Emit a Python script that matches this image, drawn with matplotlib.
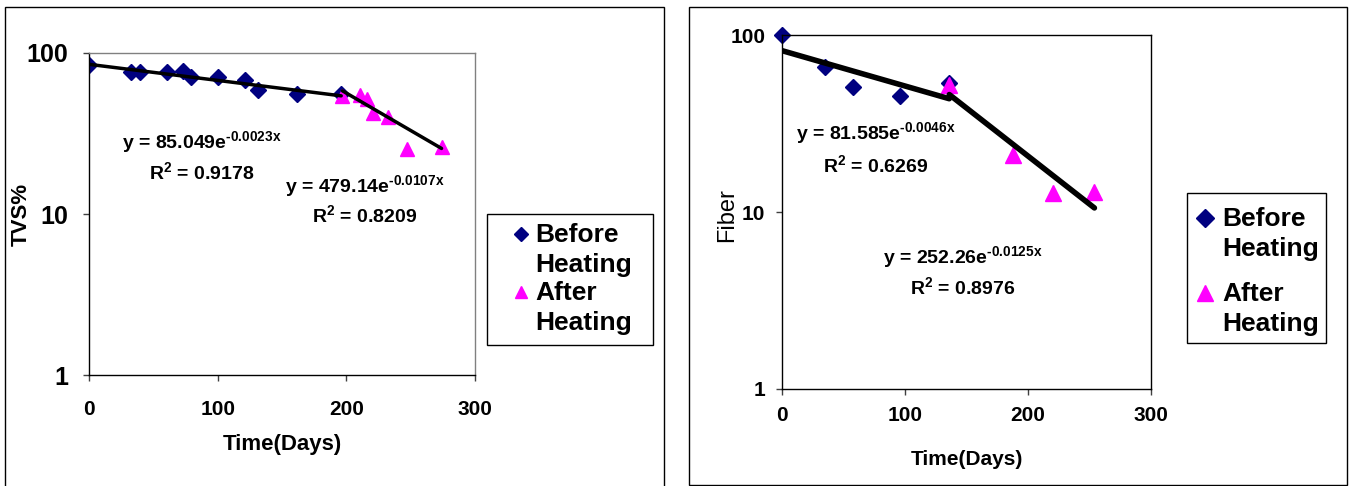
import numpy as np
import matplotlib
matplotlib.use('Agg')
import matplotlib.pyplot as plt
from matplotlib.patches import Rectangle

plt.rcParams['font.family'] = 'Liberation Sans'
plt.rcParams['mathtext.default'] = 'regular'
plt.rcParams['mathtext.fontset'] = 'custom'
plt.rcParams['mathtext.rm'] = 'Liberation Sans:bold'

# left chart: TVS%
tvs_before_x = [0, 33, 40, 61, 73, 79, 100, 121, 131, 162, 196]
tvs_before_y = [84, 76, 76, 76, 77, 71, 71, 68, 59, 55.6, 56]
tvs_after_x = [197, 211, 216, 221, 232, 247, 274]
tvs_after_y = [54, 55, 52, 42.4, 40, 25.3, 26]
tvs_fit_before = (85.049, -0.0023, 0.9178)
tvs_fit_after = (479.14, -0.0107, 0.8209)

# right chart: Fiber
fib_before_x = [0, 35, 58, 96, 136]
fib_before_y = [100, 66, 51, 45.2, 53.5]
fib_after_x = [136, 188, 220, 254]
fib_after_y = [52.2, 21, 12.8, 13]
fib_fit_before = (81.585, -0.0046, 0.6269)
fib_fit_after = (252.26, -0.0125, 0.8976)

labels = ['Before\nHeating', 'After\nHeating']

W, H = 1353, 486
fig = plt.figure(figsize=(W / 100, H / 100), dpi=100)


def fx(px):
    return px / W


def fy(py):
    return 1 - py / H


def box(x0, y0, x1, y1):
    fig.patches.append(Rectangle((fx(x0), fy(y1)), fx(x1) - fx(x0), fy(y0) - fy(y1),
                                 transform=fig.transFigure, fill=False, ec='black', lw=1))


# outer chart frames
box(5, 7, 664, 496)
box(689, 7, 1347, 485)


def fit_line(ax, xs, fit, lw):
    a, b, _ = fit
    xx = np.linspace(min(xs), max(xs), 50)
    ax.plot(xx, a * np.exp(b * xx), color='black', lw=lw, zorder=3, solid_capstyle='round')


def eq_label(ax, fit, xf, yf_eq, yf_r, size):
    a, b, r2 = fit
    coef = ('%.3f' % a) if a < 100 else ('%.2f' % a)
    ax.text(xf, yf_eq, 'y = %se$^{\\text{%.4fx}}$' % (coef, b),
            transform=ax.transAxes, ha='center', va='center', fontsize=size, weight='bold')
    ax.text(xf, yf_r, 'R$^2$ = %.4f' % r2, transform=ax.transAxes,
            ha='center', va='center', fontsize=size, weight='bold')


def setup(ax, frame_col):
    ax.set_yscale('log')
    ax.set_xlim(0, 300)
    ax.set_ylim(1, 100)
    ax.set_xticks([0, 100, 200, 300])
    ax.set_yticks([1, 10, 100])
    ax.set_yticklabels(['1', '10', '100'])
    ax.minorticks_off()
    ax.spines['top'].set_color(frame_col)
    ax.spines['right'].set_color(frame_col)
    for s in ax.spines.values():
        s.set_linewidth(1)
    ax.tick_params(direction='out', length=4, width=1, color='#404040')


def legend(ax, anchor, size, spacing, ms, textpad, ls):
    hs = ax.get_lines()[-2:]
    leg = ax.legend(hs, labels, loc='upper left', bbox_to_anchor=anchor,
                    bbox_transform=fig.transFigure, prop={'size': size, 'weight': 'bold'},
                    frameon=False, handlelength=0.8, handletextpad=textpad,
                    labelspacing=spacing, borderpad=0, borderaxespad=0)
    for t in leg.get_texts():
        t.set_linespacing(ls)
    for h, m in zip(leg.legend_handles, ms):
        h.set_markersize(m)
        h.set_ydata(np.asarray(h.get_ydata()) + 0.62 * size)
    return leg


# ---- left chart
ax1 = fig.add_axes([fx(89), fy(375), fx(475) - fx(89), fy(53) - fy(375)])
setup(ax1, '#808080')
ax1.tick_params(axis='x', labelsize=15, pad=14)
ax1.tick_params(axis='y', labelsize=18, pad=11)
for lab in ax1.get_xticklabels() + ax1.get_yticklabels():
    lab.set_fontweight('bold')
fit_line(ax1, tvs_before_x, tvs_fit_before, 2.5)
fit_line(ax1, tvs_after_x, tvs_fit_after, 2.5)
ax1.plot(tvs_before_x, tvs_before_y, 'D', color='#000080', ms=8, ls='none', zorder=2)
ax1.plot(tvs_after_x, tvs_after_y, '^', color='#ff00ff', ms=10, ls='none', zorder=2)
ax1.set_xlabel('Time(Days)', fontsize=16, weight='bold', labelpad=11)
ax1.set_ylabel('TVS%', fontsize=16, weight='bold')
ax1.yaxis.set_label_coords(-0.148, 0.5)
eq_label(ax1, tvs_fit_before, 0.293, 0.723, 0.630, 14)
eq_label(ax1, tvs_fit_after, 0.715, 0.587, 0.497, 14)
box(487, 214, 653, 345)
legend(ax1, (fx(510), fy(223)), 19, 0.18, (7, 9), 0.15, 1.3)

# ---- right chart
ax2 = fig.add_axes([fx(782), fy(389), fx(1151) - fx(782), fy(35) - fy(389)])
setup(ax2, 'black')
ax2.tick_params(axis='x', labelsize=15, pad=8)
ax2.tick_params(axis='y', labelsize=15, pad=8)
for lab in ax2.get_xticklabels() + ax2.get_yticklabels():
    lab.set_fontweight('bold')
fit_line(ax2, fib_before_x, fib_fit_before, 4)
fit_line(ax2, fib_after_x, fib_fit_after, 4)
ax2.plot(fib_before_x, fib_before_y, 'D', color='#000080', ms=8, ls='none',
         zorder=2, clip_on=False)
ax2.plot(fib_after_x, fib_after_y, '^', color='#ff00ff', ms=11, ls='none', zorder=2)
ax2.set_xlabel('Time(Days)', fontsize=15, weight='bold', labelpad=18)
ax2.set_ylabel('Fiber', fontsize=17)
ax2.yaxis.set_label_coords(-0.12, 0.49)
eq_label(ax2, fib_fit_before, 0.255, 0.723, 0.633, 14)
eq_label(ax2, fib_fit_after, 0.490, 0.373, 0.288, 14)
box(1187, 193, 1326, 343)
legend(ax2, (fx(1194), fy(207)), 19, 0.8, (9, 11), 0.28, 1.32)

fig.savefig('out.png', dpi=100)
